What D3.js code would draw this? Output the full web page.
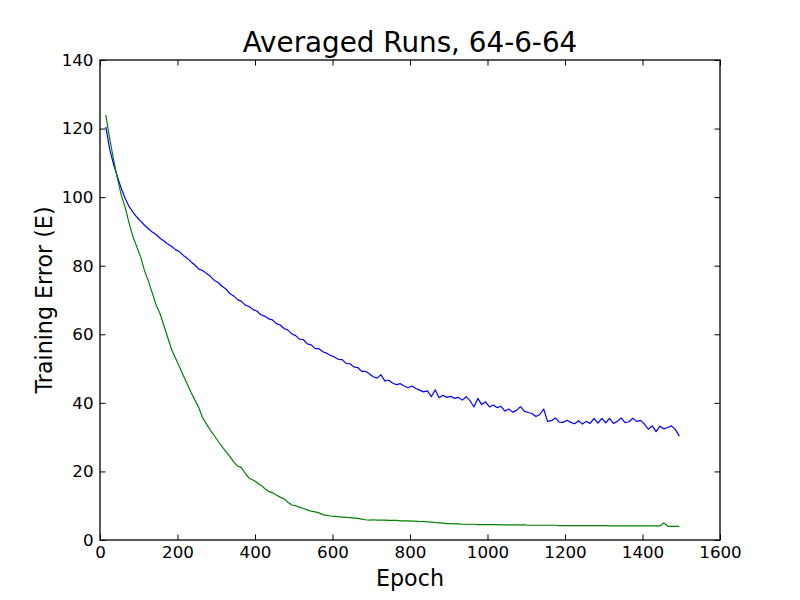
<!DOCTYPE html>
<html>
<head>
<meta charset="utf-8">
<script src="https://cdn.jsdelivr.net/npm/d3@7"></script>
<style>
  html, body { margin: 0; padding: 0; background: #fff; }
  svg { display: block; }
</style>
</head>
<body>
<svg id="chart"></svg>
<script>
/* Averaged Runs, 64-6-64 — training error per epoch, two runs */

const TITLE   = 'Averaged Runs, 64-6-64';
const X_LABEL = 'Epoch';
const Y_LABEL = 'Training Error (E)';

const X_TICKS = [0, 200, 400, 600, 800, 1000, 1200, 1400, 1600];
const Y_TICKS = [0, 20, 40, 60, 80, 100, 120, 140];

// sampled every 10 epochs, first sample at epoch 15
const FIRST_EPOCH = 15;
const EPOCH_STEP  = 10;

const blueErr = [
  120.5, 114, 109.5, 106, 102.5, 99.6, 97.3, 95.6, 94.2, 93,
  91.8, 90.8, 89.8, 89.1, 88, 87.2, 86.3, 85.6, 84.7, 84.1,
  83, 82.2, 81.1, 80.2, 79, 78.6, 77.7, 76.9, 75.7, 75.1,
  74, 73.2, 71.9, 71.2, 70.1, 69.6, 68.5, 68.1, 67.2, 66.8,
  65.7, 65.3, 64.5, 64.2, 63.1, 62.7, 61.7, 61.2, 60.1, 59.6,
  58.6, 58.4, 57.2, 56.9, 55.8, 55.8, 54.9, 54.5, 53.8, 53.4,
  52.7, 52.6, 51.5, 51.4, 50.5, 50.3, 49.2, 49.2, 48.5, 47.6,
  47.2, 48.2, 46.4, 46.6, 45.8, 45.3, 45.6, 44.9, 44.4, 44.9,
  44.2, 43.7, 43.2, 43.5, 41.8, 43.8, 41.5, 42.2, 41.6, 41.9,
  41.3, 41.6, 40.8, 41.8, 40.6, 38.8, 41.3, 39.5, 40.3, 38.8,
  39.4, 38.6, 39.0, 37.6, 38.2, 37.3, 37.8, 38.9, 37.6, 37.2,
  36.9, 36.0, 36.6, 38.2, 34.6, 34.8, 35.6, 34.4, 34.3, 34.9,
  34.3, 33.9, 34.8, 33.8, 34.6, 34.0, 35.5, 34.1, 35.5, 34.2,
  35.5, 34.0, 34.6, 35.6, 34.2, 34.5, 35.5, 34.6, 34.9, 33.8,
  32.3, 33.3, 31.6, 33.2, 32.4, 32.8, 33.3, 32.2, 30.3
];

const greenErr = [
  124, 117, 111, 105.5, 100.5, 97, 92.5, 88.5, 85.5, 82.5,
  78.5, 75.5, 72, 68.5, 66, 62.5, 59, 55.5, 53, 50.5,
  48, 45.5, 43, 40.8, 38.6, 35.6, 33.8, 32, 30.4, 28.8,
  27.2, 25.8, 24.4, 22.8, 21.6, 21.1, 19.4, 18, 17.5, 16.8,
  16, 15, 14.2, 13.8, 13.1, 12.5, 12, 11, 10.2, 10,
  9.6, 9.2, 8.8, 8.4, 8.2, 7.9, 7.4, 7.2, 7.0, 6.9,
  6.8, 6.7, 6.6, 6.5, 6.4, 6.3, 6.1, 5.9, 5.8, 5.9,
  5.8, 5.8, 5.8, 5.7, 5.7, 5.7, 5.6, 5.6, 5.6, 5.5,
  5.5, 5.4, 5.4, 5.3, 5.2, 5.1, 5.0, 4.9, 4.8, 4.8,
  4.7, 4.7, 4.6, 4.6, 4.6, 4.6, 4.5, 4.5, 4.5, 4.5,
  4.5, 4.5, 4.4, 4.4, 4.4, 4.4, 4.4, 4.4, 4.4, 4.3,
  4.3, 4.3, 4.3, 4.3, 4.3, 4.3, 4.3, 4.2, 4.2, 4.2,
  4.2, 4.2, 4.2, 4.2, 4.2, 4.2, 4.2, 4.2, 4.2, 4.2,
  4.1, 4.1, 4.1, 4.1, 4.1, 4.1, 4.1, 4.1, 4.1, 4.1,
  4.1, 4.1, 4.1, 4.1, 5.0, 4.0, 4.0, 4.0, 4.0
];

const SERIES = [
  { values: blueErr,  color: '#0000ff' },
  { values: greenErr, color: '#008000' },
];

const FONT = '"DejaVu Sans", sans-serif';
const W = 800, H = 600;
const margin = { top: 60, right: 80, bottom: 60, left: 100 };
const iW = W - margin.left - margin.right;
const iH = H - margin.top - margin.bottom;
const TICK = 5.5;

const svg = d3.select('#chart')
  .attr('width', W)
  .attr('height', H)
  .attr('viewBox', `0 0 ${W} ${H}`);

const g = svg.append('g')
  .attr('transform', `translate(${margin.left},${margin.top})`);

const x = d3.scaleLinear().domain([0, 1600]).range([0, iW]);
const y = d3.scaleLinear().domain([0, 140]).range([iH, 0]);

/* ── lines ── */
const line = d3.line()
  .x((d, i) => x(FIRST_EPOCH + i * EPOCH_STEP))
  .y(d => y(d));

g.selectAll('.run')
  .data(SERIES)
  .join('path')
  .attr('class', 'run')
  .attr('fill', 'none')
  .attr('stroke', d => d.color)
  .attr('stroke-width', 1.2)
  .attr('stroke-linejoin', 'round')
  .attr('d', d => line(d.values));

/* ── axes, ticks inward on all four sides ── */
const styleAxis = ax => {
  ax.select('.domain').remove();
  ax.selectAll('.tick line').attr('stroke', '#000').attr('stroke-width', 1);
  ax.selectAll('.tick text')
    .attr('fill', '#000')
    .attr('font-size', 16.7)
    .attr('font-family', FONT);
};

g.append('g')
  .attr('transform', `translate(0,${iH})`)
  .call(d3.axisBottom(x).tickValues(X_TICKS).tickFormat(d3.format('d'))
    .tickSizeInner(-TICK).tickSizeOuter(0).tickPadding(TICK + 1))
  .call(styleAxis);

g.append('g')
  .call(d3.axisTop(x).tickValues(X_TICKS).tickFormat('')
    .tickSizeInner(-TICK).tickSizeOuter(0))
  .call(styleAxis);

g.append('g')
  .call(d3.axisLeft(y).tickValues(Y_TICKS).tickFormat(d3.format('d'))
    .tickSizeInner(-TICK).tickSizeOuter(0).tickPadding(TICK + 1))
  .call(styleAxis);

g.append('g')
  .attr('transform', `translate(${iW},0)`)
  .call(d3.axisRight(y).tickValues(Y_TICKS).tickFormat('')
    .tickSizeInner(-TICK).tickSizeOuter(0))
  .call(styleAxis);

/* ── frame ── */
g.append('rect')
  .attr('x', 0).attr('y', 0)
  .attr('width', iW).attr('height', iH)
  .attr('fill', 'none')
  .attr('stroke', '#000')
  .attr('stroke-width', 1.3);

/* ── title and axis labels ── */
svg.append('text')
  .attr('x', margin.left + iW / 2)
  .attr('y', 52)
  .attr('text-anchor', 'middle')
  .attr('font-size', 27.8)
  .attr('font-family', FONT)
  .text(TITLE);

svg.append('text')
  .attr('x', margin.left + iW / 2)
  .attr('y', 586)
  .attr('text-anchor', 'middle')
  .attr('font-size', 22.2)
  .attr('font-family', FONT)
  .text(X_LABEL);

svg.append('text')
  .attr('transform', `translate(52,${margin.top + iH / 2}) rotate(-90)`)
  .attr('text-anchor', 'middle')
  .attr('font-size', 22.2)
  .attr('font-family', FONT)
  .text(Y_LABEL);
</script>
</body>
</html>
